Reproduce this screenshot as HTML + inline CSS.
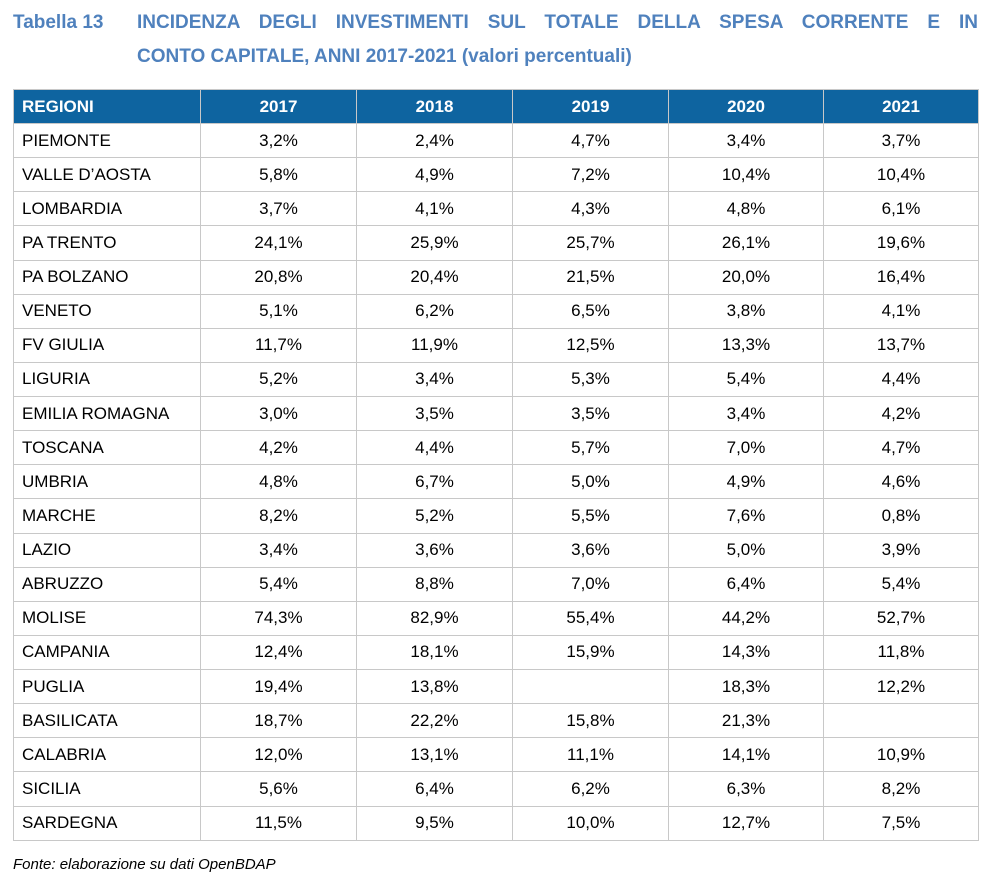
<!DOCTYPE html>
<html><head><meta charset="utf-8"><style>
body{margin:0;width:987px;height:888px;background:#fff;font-family:"Liberation Sans",sans-serif;position:relative;overflow:hidden}
.t{position:absolute;color:#4f81bd;font-weight:bold;font-size:19px;white-space:nowrap}
table{position:absolute;left:13px;top:89px;border-collapse:collapse;font-size:17px;color:#000}
td,th{border:1px solid #c8c8c8;height:33.14px;padding:0;text-align:center}
th{background:#0e64a0;color:#fff;font-weight:bold;border-color:#c8c8c8;height:33px}
td:first-child,th:first-child{text-align:left;padding-left:8px}
.f{position:absolute;left:13px;top:856px;font-style:italic;font-size:15px}
</style></head><body>
<div class="t" style="left:13px;top:12px">Tabella 13</div>
<div class="t" style="left:137px;top:12px;width:841px;text-align:justify;text-align-last:justify;word-spacing:2px">INCIDENZA DEGLI INVESTIMENTI SUL TOTALE DELLA SPESA CORRENTE E IN</div>
<div class="t" style="left:137px;top:46px">CONTO CAPITALE, ANNI 2017-2021 (valori percentuali)</div>
<table>
<colgroup><col style="width:187px"><col style="width:156px"><col style="width:156px"><col style="width:156px"><col style="width:155px"><col style="width:155px"></colgroup>
<tr><th>REGIONI</th><th>2017</th><th>2018</th><th>2019</th><th>2020</th><th>2021</th></tr>
<tr><td>PIEMONTE</td><td>3,2%</td><td>2,4%</td><td>4,7%</td><td>3,4%</td><td>3,7%</td></tr>
<tr><td>VALLE D’AOSTA</td><td>5,8%</td><td>4,9%</td><td>7,2%</td><td>10,4%</td><td>10,4%</td></tr>
<tr><td>LOMBARDIA</td><td>3,7%</td><td>4,1%</td><td>4,3%</td><td>4,8%</td><td>6,1%</td></tr>
<tr><td>PA TRENTO</td><td>24,1%</td><td>25,9%</td><td>25,7%</td><td>26,1%</td><td>19,6%</td></tr>
<tr><td>PA BOLZANO</td><td>20,8%</td><td>20,4%</td><td>21,5%</td><td>20,0%</td><td>16,4%</td></tr>
<tr><td>VENETO</td><td>5,1%</td><td>6,2%</td><td>6,5%</td><td>3,8%</td><td>4,1%</td></tr>
<tr><td>FV GIULIA</td><td>11,7%</td><td>11,9%</td><td>12,5%</td><td>13,3%</td><td>13,7%</td></tr>
<tr><td>LIGURIA</td><td>5,2%</td><td>3,4%</td><td>5,3%</td><td>5,4%</td><td>4,4%</td></tr>
<tr><td>EMILIA ROMAGNA</td><td>3,0%</td><td>3,5%</td><td>3,5%</td><td>3,4%</td><td>4,2%</td></tr>
<tr><td>TOSCANA</td><td>4,2%</td><td>4,4%</td><td>5,7%</td><td>7,0%</td><td>4,7%</td></tr>
<tr><td>UMBRIA</td><td>4,8%</td><td>6,7%</td><td>5,0%</td><td>4,9%</td><td>4,6%</td></tr>
<tr><td>MARCHE</td><td>8,2%</td><td>5,2%</td><td>5,5%</td><td>7,6%</td><td>0,8%</td></tr>
<tr><td>LAZIO</td><td>3,4%</td><td>3,6%</td><td>3,6%</td><td>5,0%</td><td>3,9%</td></tr>
<tr><td>ABRUZZO</td><td>5,4%</td><td>8,8%</td><td>7,0%</td><td>6,4%</td><td>5,4%</td></tr>
<tr><td>MOLISE</td><td>74,3%</td><td>82,9%</td><td>55,4%</td><td>44,2%</td><td>52,7%</td></tr>
<tr><td>CAMPANIA</td><td>12,4%</td><td>18,1%</td><td>15,9%</td><td>14,3%</td><td>11,8%</td></tr>
<tr><td>PUGLIA</td><td>19,4%</td><td>13,8%</td><td></td><td>18,3%</td><td>12,2%</td></tr>
<tr><td>BASILICATA</td><td>18,7%</td><td>22,2%</td><td>15,8%</td><td>21,3%</td><td></td></tr>
<tr><td>CALABRIA</td><td>12,0%</td><td>13,1%</td><td>11,1%</td><td>14,1%</td><td>10,9%</td></tr>
<tr><td>SICILIA</td><td>5,6%</td><td>6,4%</td><td>6,2%</td><td>6,3%</td><td>8,2%</td></tr>
<tr><td>SARDEGNA</td><td>11,5%</td><td>9,5%</td><td>10,0%</td><td>12,7%</td><td>7,5%</td></tr>
</table>
<div class="f">Fonte: elaborazione su dati OpenBDAP</div>
</body></html>
